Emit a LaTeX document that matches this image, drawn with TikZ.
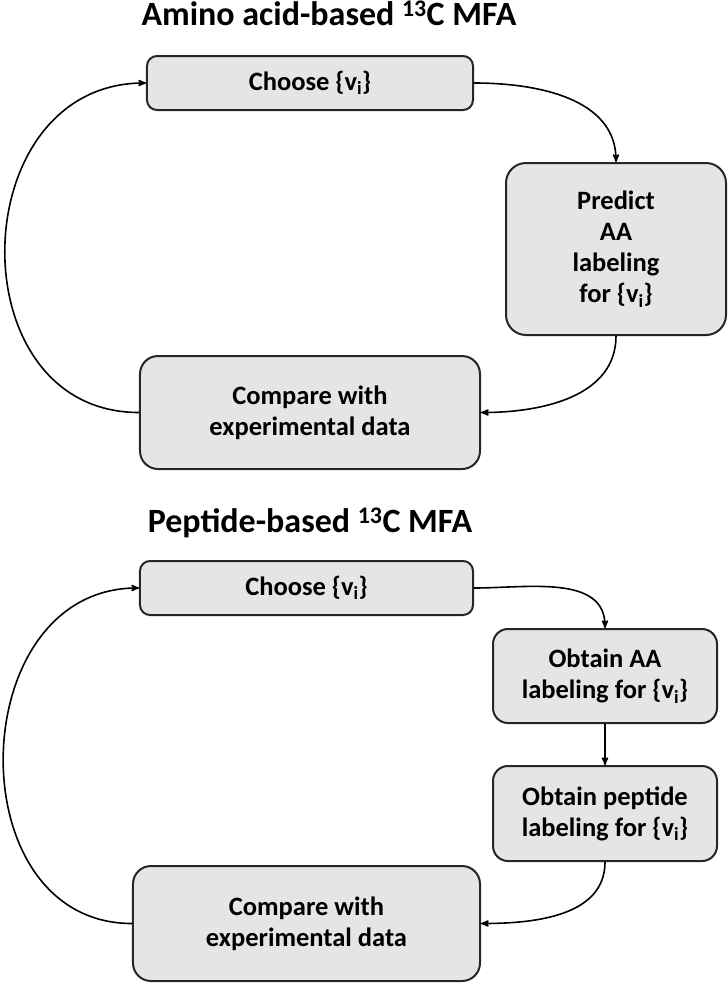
\documentclass[tikz,border=0pt]{standalone}
\usepackage{fontspec}
\setmainfont{Carlito}
\usetikzlibrary{arrows}
\usetikzlibrary{positioning}

\begin{document}
\begin{tikzpicture}[x=1bp,y=-1bp,->,>=stealth',line width=1.6bp,auto]
			\tikzstyle{stepbox}=[draw=black!85,line width=2bp,fill=black!10,rounded corners=10bp,align=center,inner sep=0pt,font=\bfseries\fontsize{26.5bp}{31bp}\selectfont]
			\tikzstyle{heading}=[anchor=base,font=\bfseries\fontsize{34bp}{40bp}\selectfont]
			\useasboundingbox (0,0) rectangle (728,983);

			% amino acid-based loop
 					 \node[heading]   (titleA) at (329,25)     {Amino acid-based \textsuperscript{13}C MFA};
 					 \node[stepbox,minimum width=326bp,minimum height=54bp] (chooseA) at (310,83) {Choose \{v\textsubscript{i}\}};
 					 \node[stepbox,minimum width=220bp,minimum height=172bp,rounded corners=20bp] (predictA) at (616,249) {Predict\\AA\\labeling\\for \{v\textsubscript{i}\}};
 					 \node[stepbox,minimum width=340bp,minimum height=113bp,rounded corners=18bp] (compareA) at (310,412.5) {Compare with\\experimental data};

			% peptide-based loop
 					 \node[heading]   (titleB) at (310,532)    {Peptide-based \textsuperscript{13}C MFA};
 					 \node[stepbox,minimum width=333bp,minimum height=54bp] (chooseB) at (306.5,588) {Choose \{v\textsubscript{i}\}};
 					 \node[stepbox,minimum width=224bp,minimum height=94bp,rounded corners=15bp] (aaB) at (605,676) {Obtain AA\\labeling for \{v\textsubscript{i}\}};
 					 \node[stepbox,minimum width=224bp,minimum height=95bp,rounded corners=15bp] (pepB) [below=41bp of aaB] {Obtain peptide\\labeling for \{v\textsubscript{i}\}};
 					 \node[stepbox,minimum width=347bp,minimum height=115bp,rounded corners=18bp] (compareB) at (306.5,923.5) {Compare with\\experimental data};

					 \path
				(chooseA) edge [out=0,in=90] (predictA)
				(predictA) edge [out=-90,in=0] (compareA)
				(compareA) edge [out=180,in=180,looseness=1.42] (chooseA)
				(chooseB) edge [out=0,in=90] (aaB)
				(aaB) edge (pepB)
				(pepB) edge [out=-90,in=0] (compareB)
				(compareB) edge [out=180,in=180,looseness=1.34] (chooseB)
				;

	\end{tikzpicture}
\end{document}
